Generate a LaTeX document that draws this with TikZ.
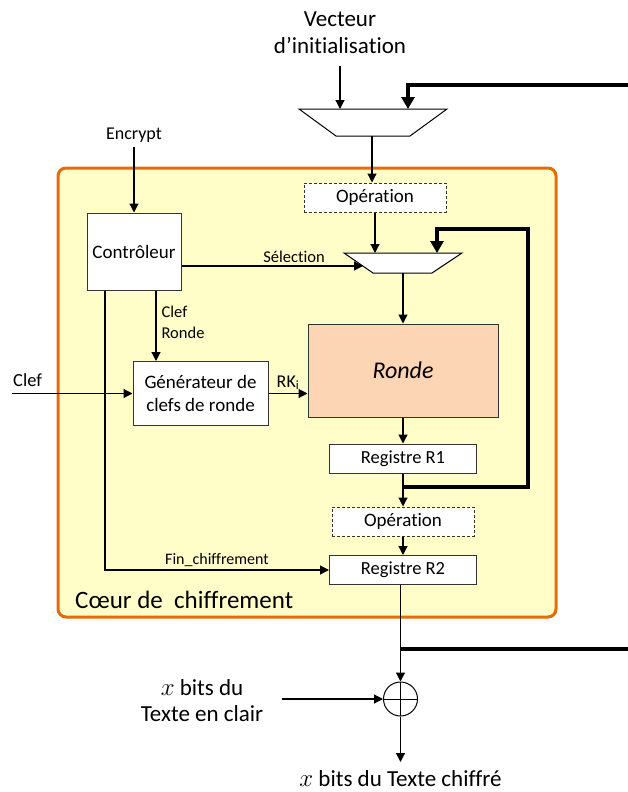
\documentclass[tikz,border=0pt]{standalone}
\usepackage{fontspec}
\setmainfont{Carlito}[Ligatures=NoCommon]
\usetikzlibrary{arrows.meta,positioning}
\definecolor{coeurfond}{RGB}{255,253,200}
\definecolor{coeurbord}{RGB}{228,108,10}
\definecolor{rondefond}{RGB}{252,213,180}
\newcommand\fs[2]{\fontsize{#1}{#2}\selectfont}

\begin{document}
\begin{tikzpicture}[x=1pt,y=-1pt,
  fleche/.style={-{Triangle[length=9pt,width=9pt]},line width=1.2pt},
  bus/.style={line width=4pt},
  busfl/.style={bus,-{Triangle[length=12pt,width=13pt]}},
  bloc/.style={draw=black!80,line width=1pt,fill=white,inner sep=0pt,align=center},
  operation/.style={bloc,dash pattern=on 3pt off 2pt,minimum width=142pt,minimum height=29pt,font=\fs{19}{23}},
  registre/.style={bloc,minimum width=147pt,minimum height=29pt,font=\fs{18.5}{22}},
  etiq/.style={inner sep=0pt,align=center}]

  \useasboundingbox (0,0) rectangle (628,792);

  % coeur de chiffrement
  \draw[rounded corners=8pt,line width=3pt,draw=coeurbord,fill=coeurfond]
  (58,168) rectangle (556,617);
  \node[etiq,anchor=west,font=\fs{25}{30}] (coeur) at (75,600) {Cœur de~ chiffrement};

  % multiplexeurs
  \draw[fill=white,line width=1pt] (299,109) -- (447,109) -- (410,136) -- (336,136) -- cycle;
  \draw[fill=white,line width=1pt] (344,253) -- (462,253) -- (432,273) -- (373,273) -- cycle;
  \coordinate (muxAin) at (340,109);
  \coordinate (muxAfb) at (408,109);
  \coordinate (muxAout) at (372,136);
  \coordinate (muxBin) at (375,253);
  \coordinate (muxBfb) at (437,253);
  \coordinate (muxBsel) at (363,266);
  \coordinate (muxBout) at (403,273);

  \node[etiq,font=\fs{23}{27}] (iv) at (340,33) {Vecteur\\d’initialisation};
  \node[etiq,font=\fs{18}{22}] (encrypt) at (134,135) {Encrypt};
  \node[etiq,anchor=west,font=\fs{18.5}{22}] (clef) at (13,380) {Clef};

  \node[bloc,minimum width=94pt,minimum height=77pt,font=\fs{19}{23}] (ctrl) at (134,251.5) {Contrôleur};
  \node[bloc,minimum width=135pt,minimum height=64pt,font=\fs{19}{23}] (gen) at (200.5,393.5) {Générateur de\\clefs de ronde};
  \node[bloc,fill=rondefond,minimum width=190pt,minimum height=93pt,font=\fs{24}{28}\itshape] (ronde) at (403,370.5) {Ronde};
  \node[operation] (opA) at (375,197.5) {Opération};
  \node[registre] (rA) at (403,458.5) {Registre R1};
  \node[operation] (opB) at (403,521.5) {Opération};
  \node[registre] (rB) at (403,570) {Registre R2};

  \node[draw,circle,line width=1pt,minimum size=34pt,inner sep=0pt,
  path picture={\draw[line width=1pt] (path picture bounding box.north) -- (path picture bounding box.south)
    (path picture bounding box.west) -- (path picture bounding box.east);}] (xor) at (400.5,699) {};
  \node[etiq,font=\fs{23}{26}] (clair) at (202,701) {$x$ bits du\\Texte en clair};
  \node[etiq,font=\fs{23}{27}] (chiffre) at (400.5,779) {$x$ bits du Texte chiffré};

  \coordinate (busA) at (628,85);
  \coordinate (retour) at (403,487);
  \coordinate (busB) at (628,649);
  \coordinate (clefin) at (12,393.5);
  \coordinate (clairin) at (282,699);
  \coordinate (sortie) at (400.5,762);

  % connexions
  \draw[fleche] (iv.south) ++(0,12) -- (muxAin);
  \draw[busfl] (busA) -| (muxAfb);
  \draw[fleche] (muxAout) -- (muxAout |- opA.north);
  \draw[fleche] (opA.south) -- (muxBin);
  \draw[fleche] (encrypt.south) ++(0,5) -- (ctrl.north);
  \draw[fleche] (ctrl.east |- muxBsel) --
  node[pos=0.62,above=2pt,inner sep=1pt,font=\fs{16.5}{20}]{Sélection} (muxBsel);
  \draw[fleche] (muxBout) -- (muxBout |- ronde.north);
  \draw[fleche] ([xshift=22pt]ctrl.south) --
  node[pos=0.45,right=5pt,inner sep=0pt,align=left,font=\fs{16.5}{21}]{Clef\\Ronde}
  ([xshift=22pt]ctrl.south |- gen.north);
  \draw[fleche] (clefin) -- (gen.west);
  \draw[fleche] (gen.east) --
  node[above=2pt,inner sep=1pt,font=\fs{18}{22}]{RK\textsubscript{i}} (gen.east -| ronde.west);
  \draw[fleche] (ronde.south) -- (rA.north);
  \draw[fleche] (rA.south) -- (opB.north);
  \draw[fleche] (opB.south) -- (rB.north);
  \draw[busfl] (retour) -- (retour -| 528,0) |- (muxBfb |- 0,229) -- (muxBfb);
  \draw[fleche] ([xshift=-29pt]ctrl.south) |-
  node[pos=0.75,above=2pt,inner sep=1pt,font=\fs{16}{19}]{Fin\_chiffrement} (rB.west);
  \draw[fleche] (xor.north |- rB.south) -- (xor.north);
  \draw[bus] (xor.north |- busB) -- (busB);
  \draw[fleche] (clairin) -- (xor.west);
  \draw[fleche] (xor.south) -- (sortie);

\end{tikzpicture}
\end{document}
